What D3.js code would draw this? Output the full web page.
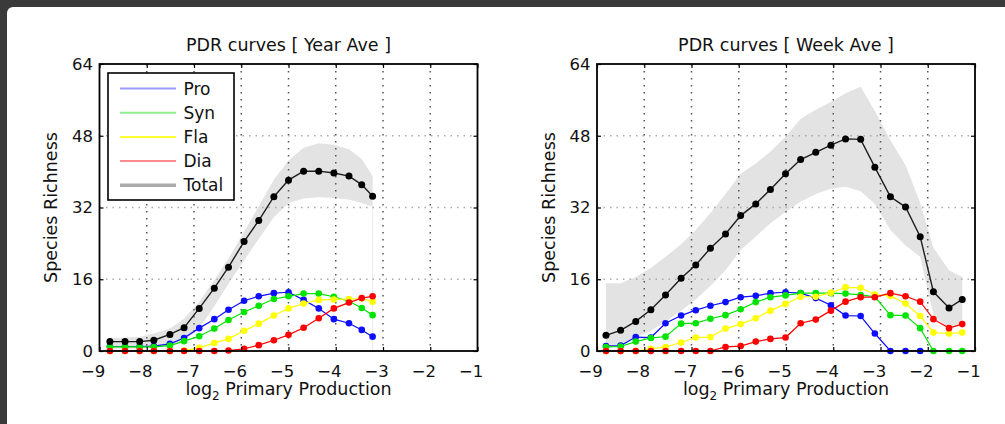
<!DOCTYPE html>
<html>
<head>
<meta charset="utf-8">
<script src="https://cdn.jsdelivr.net/npm/d3@7"></script>
<style>
  html, body { margin: 0; background: #ffffff; overflow: hidden; }
  svg { display: block; }
</style>
</head>
<body>
<script>
const width = 1005;
const height = 424;

const xTicks = [-9, -8, -7, -6, -5, -4, -3, -2, -1];
const yTicks = [0, 16, 32, 48, 64];
const legendNames = ["Pro", "Syn", "Fla", "Dia", "Total"];

// PDR curves [ Year Ave ]
const yearX = [-8.78, -8.46, -8.15, -7.85, -7.51, -7.21, -6.89, -6.57, -6.27, -5.94, -5.63, -5.31, -5.0, -4.68, -4.36, -4.04, -3.72, -3.45, -3.22];
const yearTotal = [2.1, 2.1, 2.1, 2.4, 3.7, 5.2, 9.5, 14.0, 18.7, 24.4, 29.1, 34.4, 38.1, 40.1, 40.1, 39.7, 39.0, 37.1, 34.5];
const yearPro = [1.0, 1.0, 1.0, 1.1, 1.6, 2.9, 5.1, 7.1, 9.2, 11.2, 12.2, 12.9, 13.1, 11.4, 9.5, 7.1, 6.2, 4.7, 3.2];
const yearSyn = [0.9, 0.9, 0.9, 0.9, 1.2, 2.2, 3.3, 5.0, 6.9, 8.7, 10.1, 11.6, 12.2, 12.8, 12.8, 12.1, 11.1, 9.6, 8.0];
const yearFla = [0, 0, 0, 0, 0, 0.1, 0.7, 1.8, 2.7, 4.5, 6.1, 7.9, 9.5, 10.6, 11.4, 11.5, 11.6, 11.7, 11.0];
const yearDia = [0, 0, 0, 0, 0, 0, 0, 0, 0.1, 0.5, 1.3, 2.4, 3.6, 5.2, 7.3, 9.5, 10.8, 11.8, 12.2];
const yearHi = [2.8, 3.0, 3.1, 3.9, 5.0, 7.2, 11.0, 15.8, 20.6, 26.6, 32.3, 38.2, 42.5, 45.3, 46.3, 46.0, 45.0, 42.8, 39.0];
const yearLo = [0.5, 0.5, 0.5, 0.7, 1.3, 2.2, 5.0, 10.0, 15.0, 20.2, 25.0, 29.8, 33.0, 34.0, 34.3, 34.1, 33.8, 33.0, 32.2];

// PDR curves [ Week Ave ]
const weekX = [-8.81, -8.50, -8.18, -7.86, -7.55, -7.22, -6.91, -6.60, -6.28, -5.96, -5.64, -5.33, -5.01, -4.69, -4.37, -4.05, -3.74, -3.42, -3.12, -2.79, -2.47, -2.16, -1.88, -1.55, -1.27];
const weekTotal = [3.5, 4.6, 6.6, 9.2, 12.5, 16.2, 19.2, 22.9, 26.1, 30.2, 32.8, 36.0, 39.5, 42.7, 44.3, 45.9, 47.3, 47.2, 41.0, 34.4, 32.1, 25.5, 13.2, 9.6, 11.5];
const weekPro = [1.1, 1.2, 3.1, 3.0, 6.2, 7.9, 9.1, 10.1, 10.9, 12.0, 12.3, 12.9, 13.1, 12.9, 11.8, 10.2, 7.9, 7.8, 3.9, 0, 0, 0];
const weekSyn = [0.9, 1.0, 2.1, 2.9, 3.2, 6.1, 6.2, 7.2, 8.0, 9.3, 10.9, 12.0, 12.4, 12.9, 12.9, 12.9, 12.8, 12.5, 12.1, 8.0, 7.9, 5.1, 0, 0, 0];
const weekFla = [0, 0, 0, 0.5, 0.9, 1.9, 3.0, 3.1, 5.0, 6.0, 7.3, 9.0, 10.5, 12.1, 12.1, 13.0, 14.2, 14.1, 12.6, 12.3, 10.6, 7.8, 4.1, 3.9, 4.1];
const weekDia = [0, 0, 0, 0, 0, 0, 0, 0, 0.9, 1.1, 2.1, 2.7, 3.0, 6.2, 7.0, 9.0, 11.0, 12.0, 12.0, 12.9, 12.2, 11.0, 7.1, 5.1, 6.0];
const weekHi = [15.1, 15.1, 16.5, 18.5, 21.0, 23.8, 27.0, 30.8, 35.0, 39.5, 41.8, 44.5, 47.8, 51.8, 53.8, 55.5, 57.5, 58.9, 53.5, 47.0, 41.5, 33.0, 23.0, 18.0, 16.5];
const weekLo = [0.9, 1.5, 3.0, 4.5, 6.5, 9.0, 11.5, 14.5, 18.0, 22.5, 25.5, 28.5, 31.0, 33.3, 35.0, 36.2, 36.6, 35.6, 32.8, 27.0, 23.5, 21.0, 8.0, 5.0, 6.0];

const colors = { Pro: "#0d0dff", Syn: "#00e400", Fla: "#ffff00", Dia: "#ff0000", Total: "#000000" };
const legendColors = { Pro: "#9a9aff", Syn: "#8eee8e", Fla: "#ffff30", Dia: "#ff8c8c", Total: "#ababab" };

const font = "'DejaVu Sans', sans-serif";

const svg = d3.select("body").append("svg")
  .attr("width", width)
  .attr("height", height);

// page frame (dark border top / left)
svg.append("rect").attr("width", width).attr("height", height).attr("fill", "#3a3a3a");
svg.append("rect")
  .attr("x", 7).attr("y", 7)
  .attr("width", width + 40).attr("height", height + 40)
  .attr("rx", 6)
  .attr("fill", "#ffffff");

function drawPanel(p) {
  const top = 64, bottom = 351;
  const x = d3.scaleLinear().domain([-9, -1]).range([p.left, p.left + 378]);
  const y = d3.scaleLinear().domain([0, 64]).range([bottom, top]);

  const g = svg.append("g");

  // spread band of total richness
  const band = p.x.map((v, i) => ({ x: v, lo: p.lo[i], hi: p.hi[i] }));
  g.append("path")
    .datum(band)
    .attr("fill", "#e3e3e3")
    .attr("d", d3.area().x(d => x(d.x)).y0(d => y(d.lo)).y1(d => y(d.hi)));

  if (p.edge) {
    const last = band[band.length - 1];
    g.append("line")
      .attr("x1", x(last.x)).attr("x2", x(last.x))
      .attr("y1", y(last.lo)).attr("y2", y(0))
      .attr("stroke", "#ececec");
  }

  // dotted grid
  g.append("g").selectAll("line")
    .data(xTicks.slice(1, -1))
    .join("line")
    .attr("x1", d => x(d)).attr("x2", d => x(d))
    .attr("y1", top).attr("y2", bottom)
    .attr("stroke", "#555")
    .attr("stroke-width", 1.5)
    .attr("stroke-dasharray", "1.5,5.5");

  g.append("g").selectAll("line")
    .data(yTicks.slice(1, -1))
    .join("line")
    .attr("x1", p.left).attr("x2", p.left + 378)
    .attr("y1", d => y(d)).attr("y2", d => y(d))
    .attr("stroke", "#aaa")
    .attr("stroke-width", 1.5)
    .attr("stroke-dasharray", "1.5,5");

  // series
  const series = [
    ["Pro", p.pro], ["Syn", p.syn], ["Fla", p.fla], ["Dia", p.dia], ["Total", p.total]
  ];
  const line = d3.line().x(d => x(d[0])).y(d => y(d[1]));

  for (const [name, vals] of series) {
    const pts = vals.map((v, i) => [p.x[i], v]);
    const sg = g.append("g");
    sg.append("path")
      .datum(pts)
      .attr("fill", "none")
      .attr("stroke", name === "Total" ? "#1e1e1e" : colors[name])
      .attr("stroke-width", name === "Total" ? 1.4 : 1.2)
      .attr("d", line);
    sg.selectAll("circle")
      .data(pts)
      .join("circle")
      .attr("cx", d => x(d[0]))
      .attr("cy", d => y(d[1]))
      .attr("r", name === "Total" ? 3.5 : 3.3)
      .attr("fill", colors[name]);
  }

  // axes
  const xAxis = g.append("g")
    .attr("transform", `translate(0,${bottom})`)
    .call(d3.axisBottom(x).tickValues(xTicks).tickSizeInner(-4).tickSizeOuter(0).tickPadding(14));
  xAxis.selectAll("text")
    .attr("text-anchor", "end")
    .attr("dx", "0.318em");

  g.append("g")
    .attr("transform", `translate(${p.left},0)`)
    .call(d3.axisLeft(y).tickValues(yTicks).tickSizeInner(-4).tickSizeOuter(0).tickPadding(6.5));

  g.append("g")
    .attr("transform", `translate(0,${top})`)
    .call(d3.axisTop(x).tickValues(xTicks).tickSizeInner(-4).tickSizeOuter(0).tickFormat(""));
  g.append("g")
    .attr("transform", `translate(${p.left + 378},0)`)
    .call(d3.axisRight(y).tickValues(yTicks).tickSizeInner(-4).tickSizeOuter(0).tickFormat(""));

  g.selectAll(".domain").remove();
  g.selectAll(".tick line").attr("stroke", "#000").attr("stroke-width", 1.2);
  g.selectAll(".tick text")
    .attr("fill", "#111")
    .style("font-family", font)
    .style("font-size", "16.5px");

  // box
  g.append("rect")
    .attr("x", p.left).attr("y", top)
    .attr("width", 378).attr("height", bottom - top)
    .attr("fill", "none")
    .attr("stroke", "#000")
    .attr("stroke-width", 1.8);

  // title and labels
  g.append("text")
    .attr("x", p.left + 189).attr("y", top - 13)
    .attr("text-anchor", "middle")
    .style("font-family", font).style("font-size", "17.5px")
    .attr("fill", "#111")
    .text(p.title);

  const xl = g.append("text")
    .attr("x", p.left + 189).attr("y", 395)
    .attr("text-anchor", "middle")
    .style("font-family", font).style("font-size", "17.5px")
    .attr("fill", "#111");
  xl.append("tspan").text("log");
  xl.append("tspan").attr("dy", 5).style("font-size", "12px").text("2");
  xl.append("tspan").attr("dy", -5).text(" Primary Production");

  g.append("text")
    .attr("transform", `translate(${p.left - 42.5},${(top + bottom) / 2}) rotate(-90)`)
    .attr("text-anchor", "middle")
    .style("font-family", font).style("font-size", "17.5px")
    .attr("fill", "#111")
    .text("Species Richness");

  // legend
  if (p.legend) {
    const lx = p.left + 8.5, ly = top + 9;
    const lg = g.append("g");
    lg.append("rect")
      .attr("x", lx).attr("y", ly)
      .attr("width", 126).attr("height", 127)
      .attr("fill", "#fff")
      .attr("stroke", "#000")
      .attr("stroke-width", 1.6);
    const row = lg.selectAll("g")
      .data(legendNames)
      .join("g")
      .attr("transform", (d, i) => `translate(${lx},${ly + 15.5 + i * 24.2})`);
    row.append("line")
      .attr("x1", 12).attr("x2", 68)
      .attr("stroke", d => legendColors[d])
      .attr("stroke-width", d => d === "Total" ? 3.5 : 2);
    row.append("text")
      .attr("x", 75.5).attr("dy", "0.36em")
      .style("font-family", font).style("font-size", "17px")
      .attr("fill", "#111")
      .text(d => d);
  }
}

drawPanel({
  title: "PDR curves [ Year Ave ]", left: 99.5, legend: true, edge: true,
  x: yearX, total: yearTotal, pro: yearPro, syn: yearSyn, fla: yearFla, dia: yearDia,
  hi: yearHi, lo: yearLo
});

drawPanel({
  title: "PDR curves [ Week Ave ]", left: 597, legend: false, edge: false,
  x: weekX, total: weekTotal, pro: weekPro, syn: weekSyn, fla: weekFla, dia: weekDia,
  hi: weekHi, lo: weekLo
});
</script>
</body>
</html>
